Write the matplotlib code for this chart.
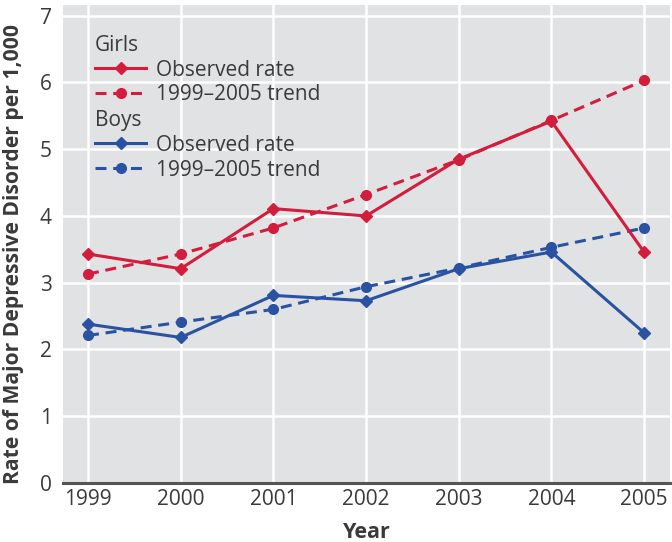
import matplotlib
matplotlib.use("Agg")
import matplotlib.pyplot as plt
from matplotlib.lines import Line2D

plt.rcParams['font.family'] = ['Open Sans', 'DejaVu Sans']

years = [1999, 2000, 2001, 2002, 2003, 2004, 2005]
girls_observed = [3.43, 3.21, 4.11, 4.00, 4.85, 5.42, 3.46]
girls_trend = [3.13, 3.43, 3.82, 4.32, 4.84, 5.43, 6.03]
boys_observed = [2.38, 2.18, 2.81, 2.73, 3.21, 3.46, 2.25]
boys_trend = [2.21, 2.41, 2.60, 2.94, 3.22, 3.53, 3.82]
y_ticks = [0, 1, 2, 3, 4, 5, 6, 7]

RED = "#d21d3d"
BLUE = "#2a52a3"
BG = "#e1e2e4"
TXT = "#3a3a3a"

fig = plt.figure(figsize=(6.72, 5.42), dpi=100)
ax = fig.add_axes([63 / 672, 59 / 542, 607 / 672, 478 / 542])
ax.set_facecolor(BG)

lw = 2.2
dash = (0, (3.6, 2.2))
ms_d, ms_o = 6.5, 7
ax.plot(years, girls_trend, color=RED, lw=lw, ls=dash, marker='o', ms=ms_o, zorder=3)
ax.plot(years, girls_observed, color=RED, lw=lw, marker='D', ms=ms_d, zorder=4)
ax.plot(years, boys_trend, color=BLUE, lw=lw, ls=dash, marker='o', ms=ms_o, zorder=3)
ax.plot(years, boys_observed, color=BLUE, lw=lw, marker='D', ms=ms_d, zorder=4)

ax.set_xlim(1998.73, 2005.28)
ax.set_ylim(0, 7.16)
ax.set_xticks(years)
ax.set_yticks(y_ticks)
ax.grid(True, color='white', lw=1.8, zorder=1)
ax.set_axisbelow(True)
for side in ['top', 'right', 'left']:
    ax.spines[side].set_visible(False)
ax.spines['bottom'].set_color('#555555')
ax.spines['bottom'].set_linewidth(2.2)
ax.tick_params(length=0, labelsize=15, colors=TXT, pad=4)
ax.tick_params(axis='y', pad=8)

ax.set_xlabel("Year", fontsize=15.5, fontweight='bold', color=TXT, labelpad=9)
ax.set_ylabel("Rate of Major Depressive Disorder per 1,000", fontsize=15.2,
              fontweight='bold', color=TXT)
ax.yaxis.set_label_coords(-0.064, 0.48)

def make_handles(color):
    return [Line2D([], [], color=color, lw=lw, marker='D', ms=ms_d),
            Line2D([], [], color=color, lw=lw, ls=dash, marker='o', ms=ms_o)]

labels = ["Observed rate", "1999\u20132005 trend"]
common = dict(frameon=False, fontsize=15, title_fontsize=15, handlelength=2.45,
              handletextpad=0.5, labelspacing=0.18, borderpad=0, borderaxespad=0,
              alignment='left', labelcolor=TXT)
leg1 = ax.legend(make_handles(RED), labels, title="Girls",
                 loc='upper left', bbox_to_anchor=(32 / 607, 1 - 30 / 478), **common)
leg1.get_title().set_color(TXT)
ax.add_artist(leg1)
leg2 = ax.legend(make_handles(BLUE), labels, title="Boys",
                 loc='upper left', bbox_to_anchor=(32 / 607, 1 - 105 / 478), **common)
leg2.get_title().set_color(TXT)

fig.savefig("out.png", dpi=100)
